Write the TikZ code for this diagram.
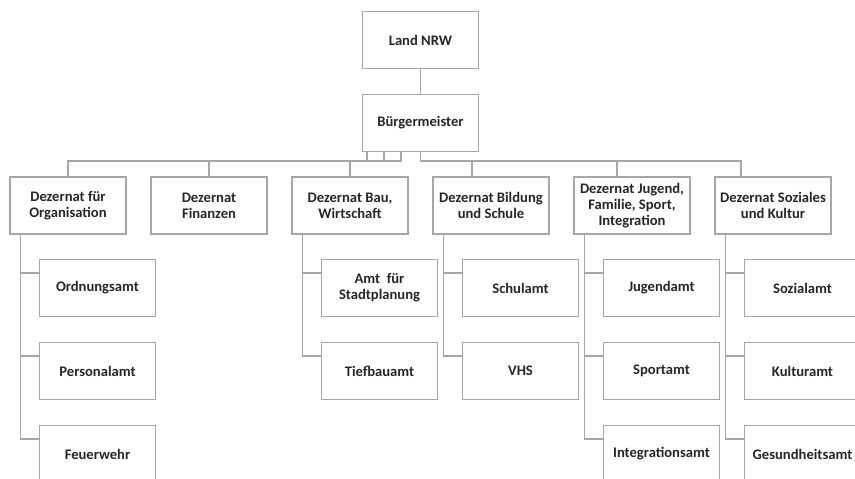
\documentclass[tikz,border=0pt]{standalone}
\usepackage{fontspec}
\setmainfont{Carlito}
\definecolor{boxgray}{HTML}{A6A6A6}
\definecolor{txtgray}{HTML}{262626}
\tikzset{
  box/.style={draw=boxgray, line width=1.1bp, minimum width=116bp, minimum height=57bp,
    inner sep=1bp, align=center, text=txtgray,
    font=\fontsize{14.6bp}{15.8bp}\selectfont\bfseries},
  conn/.style={draw=boxgray, line width=1.1bp}
}

\begin{document}
\begin{tikzpicture}[x=1bp,y=-1bp]
\clip (0,0) rectangle (855,479);
% Spitze
\node[box] (land) at (420.5,40) {Land NRW};
\node[box] (buerg) at (420.5,123) {Bürgermeister};
% Dezernate
\node[box] (org) at (68,205.5) {Dezernat für\\Organisation};
\node[box] (fin) at (209,205.5) {Dezernat\\Finanzen};
\node[box] (bau) at (350,205.5) {Dezernat Bau,\\Wirtschaft};
\node[box] (bild) at (491,205.5) {Dezernat Bildung\\und Schule};
\node[box] (jug) at (632,205.5) {Dezernat Jugend,\\Familie, Sport,\\Integration};
\node[box] (soz) at (773,205.5) {Dezernat Soziales\\und Kultur};
% Aemter
\node[box] (ord) at (97.5,288) {Ordnungsamt};
\node[box] (pers) at (97.5,371) {Personalamt};
\node[box] (feu) at (97.5,454) {Feuerwehr};
\node[box] (stadt) at (379.5,288) {Amt\ \ für\\Stadtplanung};
\node[box] (tief) at (379.5,371) {Tiefbauamt};
\node[box] (schul) at (520.5,288) {Schulamt};
\node[box] (vhs) at (520.5,371) {VHS};
\node[box] (jugamt) at (661.5,288) {Jugendamt};
\node[box] (sport) at (661.5,371) {Sportamt};
\node[box] (integ) at (661.5,454) {Integrationsamt};
\node[box] (sozamt) at (802.5,288) {Sozialamt};
\node[box] (kult) at (802.5,371) {Kulturamt};
\node[box] (gesund) at (802.5,454) {Gesundheitsamt};
% Linien
\draw[conn] (land) -- (buerg);
\draw[conn] ([xshift=-19.5bp]buerg.south) -- ++(0,9) -| (org.north);
\draw[conn] ([xshift=-53.5bp]buerg.south) -- ++(0,9);
\draw[conn] ([xshift=-36.5bp]buerg.south) -- ++(0,9);
\draw[conn] (buerg.south) -- ++(0,9) -| ([xshift=-32bp]soz.north);
\draw[conn] (fin.north) -- ++(0,-16);
\draw[conn] (bau.north) -- ++(0,-16);
\draw[conn] ([xshift=-19bp]bild.north) -- ++(0,-16);
\draw[conn] ([xshift=-15bp]jug.north) -- ++(0,-16);
\foreach \p/\c in {org/ord, org/pers, org/feu, bau/stadt, bau/tief, bild/schul, bild/vhs,
  jug/jugamt, jug/sport, jug/integ, soz/sozamt, soz/kult, soz/gesund}
  \draw[conn] ([xshift=11bp]\p.south west) |- ([yshift=15bp]\c.west);
\end{tikzpicture}
\end{document}
